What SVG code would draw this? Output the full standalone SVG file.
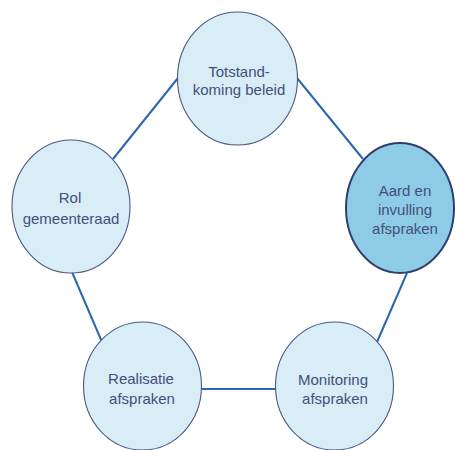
<svg xmlns="http://www.w3.org/2000/svg" width="455" height="450" viewBox="0 0 455 450">
<style>
.n{fill:#d8edf6;stroke:#4b5a84;stroke-width:1.1}
.hl{fill:#8dcbe6;stroke:#2f3e6b;stroke-width:2}
.c line{stroke:#2c66ae;stroke-width:2}
text{font-family:"Liberation Sans",Arial,sans-serif;font-size:15px;fill:#454f7c;text-anchor:middle}
</style>
<rect width="455" height="450" fill="#fff"/>
<g class="c" id="connectors">
<line x1="178" y1="78" x2="113" y2="159"/>
<line x1="297" y1="78" x2="363" y2="159"/>
<line x1="72" y1="272" x2="102" y2="342"/>
<line x1="201" y1="389" x2="275" y2="389"/>
<line x1="407" y1="273" x2="377" y2="342"/>
</g>
<g id="totstandkoming">
<ellipse class="n" cx="237.5" cy="78.5" rx="60" ry="66.5"/>
<text x="239" y="77">Totstand-</text>
<text x="239" y="95">koming beleid</text>
</g>
<g id="aard">
<ellipse class="hl" cx="400" cy="208" rx="54" ry="65"/>
<text x="405" y="196">Aard en</text>
<text x="405" y="215">invulling</text>
<text x="405" y="234">afspraken</text>
</g>
<g id="rol">
<ellipse class="n" cx="71" cy="206.5" rx="59" ry="66.5"/>
<text x="70" y="203">Rol</text>
<text x="71" y="224">gemeenteraad</text>
</g>
<g id="realisatie">
<ellipse class="n" cx="142.5" cy="386" rx="59" ry="64"/>
<text x="141" y="384">Realisatie</text>
<text x="142" y="404">afspraken</text>
</g>
<g id="monitoring">
<ellipse class="n" cx="334.5" cy="386" rx="59" ry="64"/>
<text x="333" y="385">Monitoring</text>
<text x="335" y="404">afspraken</text>
</g>
</svg>
